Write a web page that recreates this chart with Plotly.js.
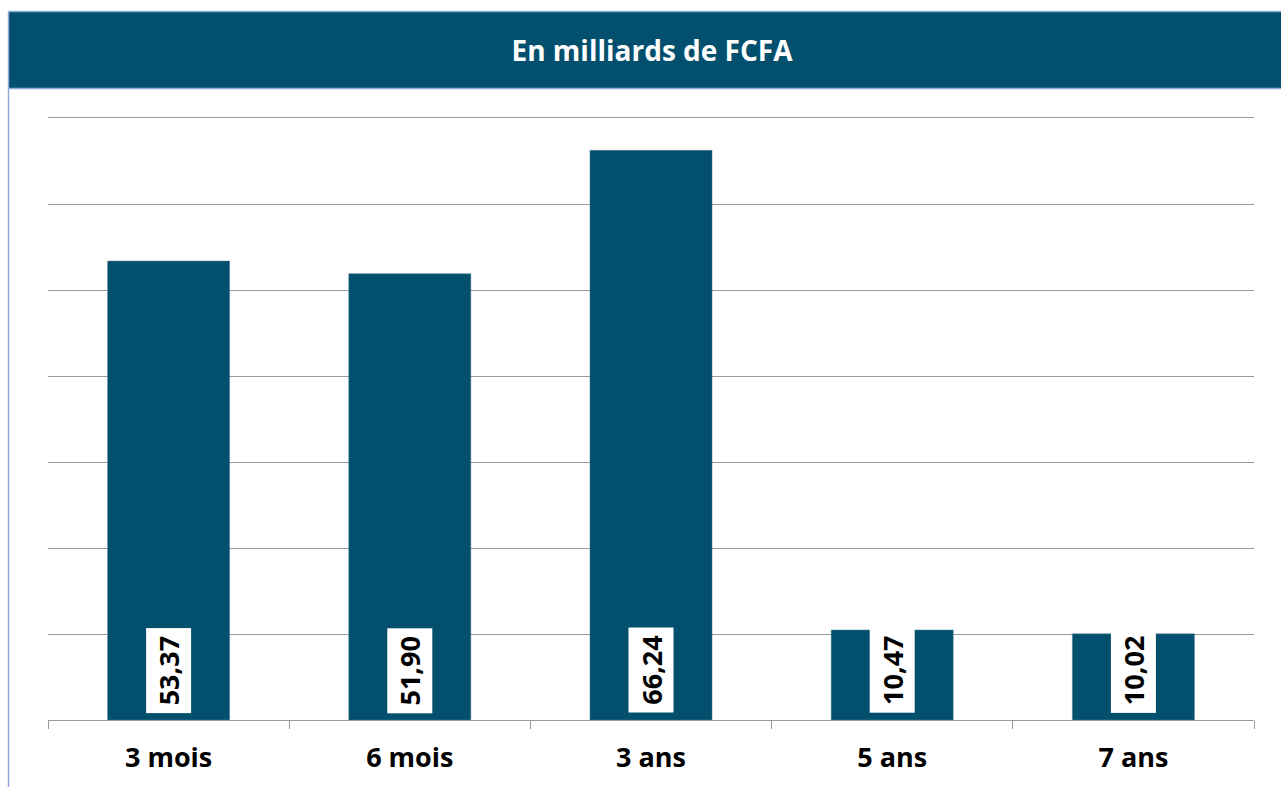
<!DOCTYPE html>
<html><head><meta charset="utf-8">
<script src="https://cdn.plot.ly/plotly-3.0.1.min.js"></script>
<style>html,body{margin:0;padding:0;background:#fff;}#chart{width:1281px;height:787px;}</style>
</head><body><div id="chart"></div>
<script>
const categories = ["3 mois", "6 mois", "3 ans", "5 ans", "7 ans"];
const values = [53.37, 51.90, 66.24, 10.47, 10.02];
const valueLabels = ["53,37", "51,90", "66,24", "10,47", "10,02"];
const chartTitle = "En milliards de FCFA";

const W = 1281, H = 787, L = 48, R = 27, T = 118, B = 67;
const pw = W - L - R, ph = H - T - B;
const px = X => (X - L) / pw;
const py = Y => (H - B - Y) / ph;
const barColor = "#03506e";

const trace = {
  type: "bar", x: categories, y: values,
  marker: {color: barColor, line: {color: "#4a7f96", width: 0.5}},
  width: 0.506, hoverinfo: "skip"
};

const annotations = categories.map((c, i) => ({
  x: c, y: 0, xref: "x", yref: "y",
  text: "<b>" + valueLabels[i] + "</b>", showarrow: false,
  textangle: -90, yanchor: "bottom", xanchor: "center", yshift: 7,
  bgcolor: "#ffffff", borderpad: 0, borderwidth: 0, width: 85, height: 45,
  font: {family: "Open Sans", size: 27, color: "#000"}
}));

const layout = {
  width: W, height: H,
  margin: {l: L, r: R, t: T, b: B},
  paper_bgcolor: "#fff", plot_bgcolor: "#fff",
  showlegend: false,
  title: {text: "<b>" + chartTitle + "</b>", x: 0.509, xanchor: "center", y: 1 - 51 / H, yanchor: "middle", yref: "container",
          font: {family: "Open Sans", size: 28, color: "#ffffff"}},
  xaxis: {showline: true, mirror: true, linecolor: "#999", linewidth: 1, ticks: "outside", ticklen: 8, tickcolor: "#999",
          tickson: "boundaries", showgrid: false, ticklabelstandoff: 14,
          tickfont: {family: "Open Sans", size: 27, color: "#000", weight: "bold"}},
  yaxis: {range: [0, 70], dtick: 10, showticklabels: false, showgrid: true, gridcolor: "#999", gridwidth: 1,
          zeroline: false, fixedrange: true},
  shapes: [
    {type: "rect", xref: "paper", yref: "paper", x0: px(8), x1: px(1281), y0: py(89), y1: py(11),
     fillcolor: barColor, line: {width: 0}, layer: "below"},
    {type: "line", xref: "paper", yref: "paper", x0: px(8), x1: px(1281), y0: py(11.5), y1: py(11.5),
     line: {color: "#8eaadb", width: 1.5}},
    {type: "line", xref: "paper", yref: "paper", x0: px(8), x1: px(1281), y0: py(88.5), y1: py(88.5),
     line: {color: "#8eaadb", width: 1.5}},
    {type: "line", xref: "paper", yref: "paper", x0: px(8.5), x1: px(8.5), y0: py(11), y1: py(787),
     line: {color: "#8eaadb", width: 1.5}}
  ],
  annotations: annotations,
  bargap: 0.494
};

Plotly.newPlot("chart", [trace], layout, {displayModeBar: false, staticPlot: true});
</script></body></html>
